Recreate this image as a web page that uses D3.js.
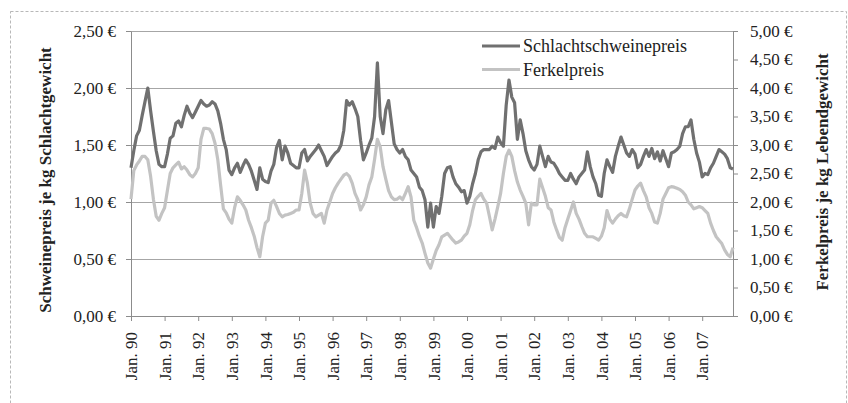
<!DOCTYPE html>
<html>
<head>
<meta charset="utf-8">
<script src="https://cdn.jsdelivr.net/npm/d3@7"></script>
<style>
  body { margin: 0; background: #fff; }
  svg text { font-family: "Liberation Serif", "Times New Roman", serif; fill: #222; }
</style>
</head>
<body>
<svg width="848" height="403"></svg>
<script>
// Jahre und Monatskategorien (Jan. 1990 - Dez. 2007)
var years = d3.range(1990, 2008);
var months = [];
years.forEach(function (y) {
    for (var m = 1; m <= 12; m++) months.push(y + "-" + (m < 10 ? "0" + m : m));
});

// Schlachtschweinepreis, € je kg Schlachtgewicht (linke Achse)
var schlachtPreis = [
    1.30, 1.45, 1.58, 1.63, 1.76, 1.88, 2.00, 1.80, 1.62, 1.45, 1.33, 1.31,
    1.31, 1.42, 1.56, 1.58, 1.69, 1.71, 1.66, 1.76, 1.84, 1.78, 1.74, 1.79,
    1.84, 1.89, 1.86, 1.84, 1.85, 1.88, 1.86, 1.80, 1.69, 1.55, 1.46, 1.28,
    1.24, 1.30, 1.34, 1.26, 1.32, 1.37, 1.33, 1.27, 1.19, 1.11, 1.30, 1.20,
    1.18, 1.17, 1.27, 1.33, 1.48, 1.54, 1.37, 1.49, 1.43, 1.34, 1.32, 1.30,
    1.30, 1.43, 1.46, 1.36, 1.40, 1.43, 1.46, 1.50, 1.45, 1.40, 1.32, 1.36,
    1.40, 1.43, 1.45, 1.50, 1.63, 1.89, 1.85, 1.88, 1.82, 1.75, 1.54, 1.37,
    1.43, 1.50, 1.56, 1.75, 2.22, 1.75, 1.60, 1.81, 1.89, 1.70, 1.51, 1.46,
    1.43, 1.46, 1.40, 1.37, 1.28, 1.25, 1.22, 1.13, 1.10, 1.02, 0.78, 0.99,
    0.78, 0.96, 0.90, 1.05, 1.25, 1.30, 1.31, 1.22, 1.16, 1.13, 1.09, 1.10,
    0.99, 1.05, 1.16, 1.25, 1.37, 1.44, 1.46, 1.46, 1.46, 1.49, 1.47, 1.57,
    1.52, 1.49, 1.85, 2.07, 1.92, 1.87, 1.55, 1.72, 1.60, 1.45, 1.37, 1.31,
    1.28, 1.33, 1.49, 1.40, 1.31, 1.40, 1.35, 1.34, 1.30, 1.25, 1.22, 1.19,
    1.19, 1.25, 1.20, 1.16, 1.22, 1.25, 1.28, 1.44, 1.31, 1.22, 1.16, 1.06,
    1.05, 1.25, 1.37, 1.31, 1.26, 1.40, 1.49, 1.57, 1.50, 1.43, 1.40, 1.46,
    1.42, 1.30, 1.33, 1.40, 1.46, 1.40, 1.47, 1.38, 1.44, 1.36, 1.45, 1.38,
    1.31, 1.43, 1.44, 1.46, 1.49, 1.60, 1.66, 1.66, 1.72, 1.55, 1.43, 1.35,
    1.22, 1.25, 1.24, 1.30, 1.34, 1.40, 1.46, 1.44, 1.42, 1.38, 1.30, 1.29
];

// Ferkelpreis, € je kg Lebendgewicht (rechte Achse)
var ferkelPreis = [
    2.05, 2.55, 2.65, 2.72, 2.80, 2.80, 2.74, 2.45, 2.05, 1.75, 1.68, 1.80,
    1.90, 2.20, 2.50, 2.60, 2.65, 2.70, 2.58, 2.62, 2.56, 2.48, 2.44, 2.50,
    2.60, 3.10, 3.29, 3.29, 3.28, 3.20, 3.03, 2.74, 2.30, 1.88, 1.81, 1.70,
    1.63, 1.90, 2.09, 2.03, 1.95, 1.86, 1.68, 1.55, 1.40, 1.20, 1.04, 1.39,
    1.63, 1.68, 1.98, 2.03, 1.92, 1.80, 1.74, 1.77, 1.78, 1.80, 1.82, 1.86,
    1.86, 2.15, 2.56, 2.33, 1.98, 1.80, 1.74, 1.77, 1.80, 1.63, 1.86, 2.00,
    2.15, 2.25, 2.33, 2.40, 2.47, 2.50, 2.45, 2.33, 2.15, 2.04, 1.86, 1.95,
    2.09, 2.30, 2.44, 2.75, 3.10, 2.97, 2.62, 2.40, 2.20, 2.09, 2.04, 2.05,
    2.09, 2.04, 2.15, 2.27, 2.09, 1.68, 1.55, 1.40, 1.28, 1.10, 0.93, 0.84,
    1.00, 1.15, 1.25, 1.39, 1.42, 1.45, 1.39, 1.33, 1.28, 1.30, 1.33, 1.40,
    1.45, 1.60, 1.85, 2.04, 2.10, 2.15, 2.05, 1.98, 1.75, 1.51, 1.70, 1.92,
    2.15, 2.50, 2.80, 2.91, 2.80, 2.55, 2.35, 2.21, 2.10, 1.98, 1.60, 1.98,
    1.95, 1.95, 2.40, 2.25, 2.10, 1.90, 1.86, 1.65, 1.51, 1.38, 1.33, 1.55,
    1.70, 1.85, 2.00, 1.80, 1.70, 1.57, 1.45, 1.39, 1.39, 1.39, 1.36, 1.33,
    1.40, 1.55, 1.85, 1.70, 1.63, 1.70, 1.76, 1.80, 1.76, 1.74, 1.88, 2.05,
    2.21, 2.28, 2.33, 2.20, 2.09, 1.90, 1.80, 1.65, 1.63, 1.80, 2.05, 2.15,
    2.25, 2.27, 2.26, 2.24, 2.22, 2.18, 2.12, 2.00, 1.95, 1.88, 1.90, 1.92,
    1.90, 1.85, 1.80, 1.63, 1.50, 1.39, 1.33, 1.27, 1.16, 1.08, 1.04, 1.20
];

var leftTicks = [0, 0.5, 1, 1.5, 2, 2.5];
var rightTicks = [0, 0.5, 1, 1.5, 2, 2.5, 3, 3.5, 4, 4.5, 5];
var tickMonths = years.map(function (y) { return y + "-01"; });
var tickLabels = years.map(function (y) { return "Jan. " + String(y).slice(2); });

var series = [
    { name: "Schlachtschweinepreis", values: schlachtPreis, axis: "left", color: "#707070" },
    { name: "Ferkelpreis", values: ferkelPreis, axis: "right", color: "#c3c3c3" }
];

var svg = d3.select("svg"),
    margin = { top: 31, right: 115, bottom: 87, left: 131 },
    width = +svg.attr("width") - margin.left - margin.right,
    height = +svg.attr("height") - margin.top - margin.bottom;

var de = d3.formatLocale({ decimal: ",", thousands: ".", grouping: [3], currency: ["", " €"] });
var euro = function (v) { return de.format(".2f")(v) + " €"; };

var x = d3.scalePoint().domain(months).range([0, width]),
    yL = d3.scaleLinear().domain([0, 2.5]).range([height, 0]),
    yR = d3.scaleLinear().domain([0, 5]).range([height, 0]);

// dashed outer frame
svg.append("rect")
    .attr("x", 10.5).attr("y", 11.5)
    .attr("width", 836).attr("height", 400)
    .attr("fill", "none")
    .attr("stroke", "#b8b8b8")
    .attr("stroke-dasharray", "3,2");

var g = svg.append("g")
    .attr("transform", "translate(" + margin.left + "," + margin.top + ")");

// gridlines
g.selectAll(".grid")
    .data(leftTicks.slice(1))
    .enter().append("line")
    .attr("class", "grid")
    .attr("x1", 0).attr("x2", width)
    .attr("y1", function (d) { return Math.round(yL(d)) + 0.5; })
    .attr("y2", function (d) { return Math.round(yL(d)) + 0.5; })
    .attr("stroke", "#a6a6a6");

function styleAxis(sel) {
    sel.selectAll(".domain").attr("stroke", "#8c8c8c");
    sel.selectAll(".tick line").attr("stroke", "#8c8c8c");
    sel.selectAll("text").style("font-size", "17px").attr("fill", "#222");
}

g.append("g") // left axis
    .call(d3.axisLeft(yL).tickValues(leftTicks).tickFormat(euro).tickSize(5).tickSizeOuter(0).tickPadding(10))
    .call(styleAxis);

g.append("g") // right axis
    .attr("transform", "translate(" + width + ",0)")
    .call(d3.axisRight(yR).tickValues(rightTicks).tickFormat(euro).tickSize(5).tickSizeOuter(0).tickPadding(12))
    .call(styleAxis);

var xAxis = g.append("g") // x axis
    .attr("transform", "translate(0," + height + ")")
    .call(d3.axisBottom(x).tickValues(tickMonths)
        .tickFormat(function (d, i) { return tickLabels[i]; })
        .tickSize(5).tickSizeOuter(0))
    .call(styleAxis);

xAxis.selectAll(".tick text")
    .attr("transform", "rotate(-90)")
    .attr("text-anchor", "end")
    .attr("x", -16).attr("y", 0).attr("dy", "0.33em");

// lines (Ferkelpreis first, Schlachtschweinepreis on top)
series.slice().reverse().forEach(function (s) {
    var yScale = s.axis === "left" ? yL : yR;
    var line = d3.line()
        .x(function (d, i) { return x(months[i]); })
        .y(function (d) { return yScale(d); });
    g.append("path")
        .datum(s.values)
        .attr("fill", "none")
        .attr("stroke", s.color)
        .attr("stroke-width", 3.2)
        .attr("stroke-linejoin", "round")
        .attr("d", line);
});

// axis titles
svg.append("text")
    .attr("transform", "translate(45,180) rotate(-90)")
    .attr("text-anchor", "middle")
    .attr("dominant-baseline", "central")
    .style("font-size", "17px").style("font-weight", "bold")
    .attr("fill", "#111")
    .text("Schweinepreis je kg Schlachtgewicht");

svg.append("text")
    .attr("transform", "translate(822,172) rotate(-90)")
    .attr("text-anchor", "middle")
    .attr("dominant-baseline", "central")
    .style("font-size", "17px").style("font-weight", "bold")
    .attr("fill", "#111")
    .text("Ferkelpreis je kg Lebendgewicht");

// legend
var legend = svg.append("g").attr("transform", "translate(482,46)");
series.forEach(function (s, i) {
    var row = legend.append("g").attr("transform", "translate(0," + (i * 23.5) + ")");
    row.append("line")
        .attr("x1", 0).attr("x2", 38)
        .attr("stroke", s.color).attr("stroke-width", 3.2);
    row.append("text")
        .attr("x", 41).attr("y", 0).attr("dy", "0.35em")
        .style("font-size", "18px")
        .text(s.name);
});
</script>
</body>
</html>
